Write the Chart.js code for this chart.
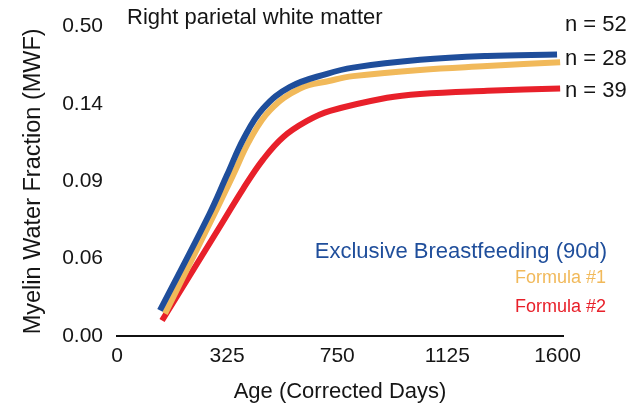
<!DOCTYPE html>
<html>
<head>
<meta charset="utf-8">
<script src="https://cdn.jsdelivr.net/npm/chart.js@4"></script>
<style>
  html, body { margin: 0; padding: 0; background: #fff; }
  #wrap { width: 631px; height: 409px; }
</style>
</head>
<body>
<div id="wrap"><canvas id="c" width="631" height="409"></canvas></div>
<script>
// Tick labels (axis positions are evenly spaced, labels as printed)
const ageTickLabels = ['0', '325', '750', '1125', '1600'];
const mwfTickLabels = ['0.00', '0.06', '0.09', '0.14', '0.50'];

// Series, in axis-position units (0 = first tick, 4 = last tick)
const breastAge = [0.39, 0.836, 0.999, 1.153, 1.326, 1.571, 1.907, 2.143, 2.752, 3.361, 3.996];
const breastMwf = [0.33, 1.567, 2.08, 2.56, 2.94, 3.22, 3.39, 3.47, 3.57, 3.62, 3.64];

const formula1Age = [0.436, 0.881, 1.054, 1.208, 1.39, 1.662, 1.935, 2.143, 2.752, 3.361, 4.024];
const formula1Mwf = [0.29, 1.567, 2.08, 2.54, 2.92, 3.20, 3.30, 3.36, 3.44, 3.49, 3.54];

const formula2Age = [0.409, 0.963, 1.144, 1.326, 1.508, 1.726, 1.935, 2.452, 2.752, 3.361, 4.024];
const formula2Mwf = [0.20, 1.48, 1.90, 2.28, 2.57, 2.78, 2.91, 3.08, 3.13, 3.17, 3.20];

const seriesNames = ['Exclusive Breastfeeding (90d)', 'Formula #1', 'Formula #2'];
const sampleSizes = ['n = 52', 'n = 28', 'n = 39'];
const panelTitle = 'Right parietal white matter';

const BLUE = '#1f4e9b', ORANGE = '#f1b95a', RED = '#e8202a';
const FONT = '"Liberation Sans", Arial, Helvetica, sans-serif';

function pts(xs, ys) { return xs.map((x, i) => ({ x: x, y: ys[i] })); }

const textPlugin = {
  id: 'texts',
  afterDraw(chart) {
    const ctx = chart.ctx;
    ctx.save();
    ctx.textBaseline = 'middle';
    ctx.fillStyle = '#151515';
    ctx.font = '22px ' + FONT;
    ctx.textAlign = 'left';
    ctx.fillText(panelTitle, 127, 18);
    ctx.fillText(sampleSizes[0], 565, 25);
    ctx.fillText(sampleSizes[1], 565, 59);
    ctx.fillText(sampleSizes[2], 565, 91);
    ctx.textAlign = 'right';
    ctx.fillStyle = BLUE;
    ctx.font = '22px ' + FONT;
    ctx.fillText(seriesNames[0], 607, 252);
    ctx.font = '18px ' + FONT;
    ctx.fillStyle = ORANGE;
    ctx.fillText(seriesNames[1], 606, 278);
    ctx.fillStyle = RED;
    ctx.fillText(seriesNames[2], 606, 307);
    ctx.restore();
  }
};

const ds = (label, data, color) => ({
  label, data, borderColor: color, backgroundColor: color,
  borderWidth: 6, pointRadius: 0, fill: false,
  tension: 0.4, borderCapStyle: 'butt', borderJoinStyle: 'round'
});

new Chart(document.getElementById('c'), {
  type: 'line',
  data: {
    datasets: [
      ds(seriesNames[0], pts(breastAge, breastMwf), BLUE),
      ds(seriesNames[1], pts(formula1Age, formula1Mwf), ORANGE),
      ds(seriesNames[2], pts(formula2Age, formula2Mwf), RED)
    ]
  },
  options: {
    responsive: false,
    animation: false,
    devicePixelRatio: 1,
    layout: { padding: { top: 22, right: 68, left: 0, bottom: 0 } },
    plugins: { legend: { display: false }, tooltip: { enabled: false }, title: { display: false } },
    scales: {
      x: {
        type: 'linear', min: 0, max: 4.05,
        afterBuildTicks(s) { s.ticks = ageTickLabels.map((_, i) => ({ value: i })); },
        afterFit(s) { s.height = 73; },
        grid: { display: false, drawTicks: false },
        border: { display: true, color: '#111', width: 2 },
        ticks: {
          color: '#151515', font: { family: FONT, size: 21 }, padding: 8,
          maxRotation: 0, autoSkip: false,
          callback: (v) => ageTickLabels[v]
        },
        title: {
          display: true, text: 'Age (Corrected Days)', color: '#151515',
          font: { family: FONT, size: 22 }, padding: { top: 0, bottom: 4 }
        }
      },
      y: {
        type: 'linear', min: 0, max: 4,
        afterBuildTicks(s) { s.ticks = mwfTickLabels.map((_, i) => ({ value: i })); },
        afterFit(s) { s.width = 117; },
        grid: { display: false, drawTicks: false },
        border: { display: false },
        ticks: {
          color: '#151515', font: { family: FONT, size: 21 }, padding: 14,
          autoSkip: false,
          callback: (v) => mwfTickLabels[v]
        },
        title: {
          display: true, text: 'Myelin Water Fraction (MWF)', color: '#151515',
          font: { family: FONT, size: 23.5 }, padding: { top: 19, bottom: 0 }
        }
      }
    }
  },
  plugins: [textPlugin]
});
</script>
</body>
</html>
